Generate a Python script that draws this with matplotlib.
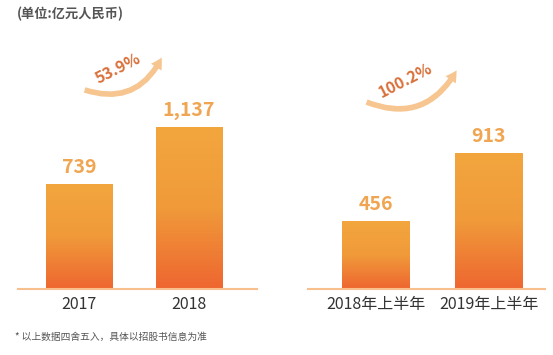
import numpy as np
import matplotlib
matplotlib.use("Agg")
import matplotlib.pyplot as plt
from matplotlib.colors import LinearSegmentedColormap
from matplotlib.patches import FancyArrowPatch

plt.rcParams['font.family'] = ['Noto Sans CJK SC', 'DejaVu Sans']

# 数据
years = ["2017", "2018"]
year_values = [739, 1137]
year_labels = ["739", "1,137"]
year_growth = "53.9%"

halves = ["2018年上半年", "2019年上半年"]
half_values = [456, 913]
half_labels = ["456", "913"]
half_growth = "100.2%"

W, H = 553, 355
fig = plt.figure(figsize=(W / 100, H / 100), dpi=100)

grad = LinearSegmentedColormap.from_list("g", ["#EE6630", "#F09A3A", "#F3A63E"])
label_color = "#F0A552"
base_color = "#F7C08C"


def px_axes(x0, x1, y0, y1):
    # 像素坐标 -> 图形坐标
    return fig.add_axes([x0 / W, 1 - y1 / H, (x1 - x0) / W, (y1 - y0) / H])


def draw_panel(ax, cats, vals, labels, width, xlim, ymax):
    bars = ax.bar(range(len(cats)), vals, width=width, color="none")
    g = np.linspace(0, 1, 256).reshape(-1, 1)
    for b in bars:
        x, w, h = b.get_x(), b.get_width(), b.get_height()
        im = ax.imshow(g, cmap=grad, origin="lower", aspect="auto",
                       extent=[x, x + w, 0, h], zorder=2)
        im.set_clip_path(b)
    for i, (v, t) in enumerate(zip(vals, labels)):
        ax.annotate(t, (i, v), xytext=(0, 5), textcoords="offset points",
                    ha="center", va="bottom", fontsize=14, fontweight="bold",
                    color=label_color)
    ax.set_xlim(*xlim)
    ax.set_ylim(0, ymax)
    ax.set_xticks(range(len(cats)))
    ax.set_xticklabels(cats, fontsize=11.5, color="#333333")
    ax.tick_params(axis="x", length=0, pad=5)
    ax.set_yticks([])
    for s in ["top", "left", "right"]:
        ax.spines[s].set_visible(False)
    ax.spines["bottom"].set_color(base_color)
    ax.spines["bottom"].set_linewidth(1.5)
    ax.patch.set_alpha(0)


# 左侧：年度
ax1 = px_axes(18, 257, 20, 289)
draw_panel(ax1, years, year_values, year_labels, 0.61,
           (-0.56, 1.62), 1137 * 269 / 162)

# 右侧：半年度
ax2 = px_axes(308, 545, 20, 289)
draw_panel(ax2, halves, half_values, half_labels, 0.6,
           (-0.6, 1.5), 913 * 269 / 136)


def growth_arrow(p0, p1, txt, tpos):
    a = FancyArrowPatch((p0[0] / W, 1 - p0[1] / H), (p1[0] / W, 1 - p1[1] / H),
                        transform=fig.transFigure,
                        connectionstyle="arc3,rad=0.45",
                        arrowstyle="simple,head_width=9,head_length=8,tail_width=4",
                        color="#F6C590", lw=0)
    fig.add_artist(a)
    fig.text(tpos[0] / W, 1 - tpos[1] / H, txt, rotation=27, ha="center",
             va="center", fontsize=11.5, fontweight="bold", color="#D9703A")


growth_arrow((82, 89), (163, 55), year_growth, (118, 68))
growth_arrow((364, 101), (458, 68), half_growth, (405, 80))

fig.text(17 / W, 1 - 14 / H, "(单位:亿元人民币)", ha="left", va="center",
         fontsize=9.5, fontweight="bold", color="#555555")
fig.text(15 / W, 1 - 337 / H, "* 以上数据四舍五入，具体以招股书信息为准",
         ha="left", va="center", fontsize=7, color="#555555")

fig.savefig("out.png", dpi=100)
